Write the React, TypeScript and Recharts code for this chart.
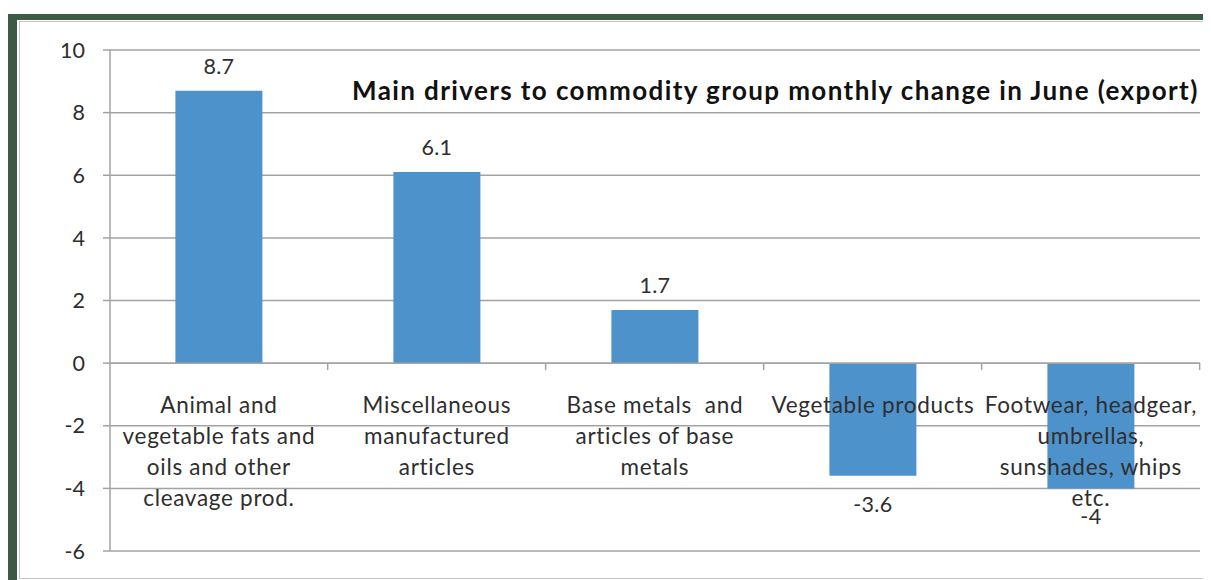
import { BarChart, Bar, XAxis, YAxis, CartesianGrid, ReferenceLine, LabelList } from "recharts";

const categories = [
  "Animal and\nvegetable fats and\noils and other\ncleavage prod.",
  "Miscellaneous\nmanufactured\narticles",
  "Base metals  and\narticles of base\nmetals",
  "Vegetable products",
  "Footwear, headgear,\numbrellas,\nsunshades, whips\netc.",
];
const values = [8.7, 6.1, 1.7, -3.6, -4];
const yTicks = [-6, -4, -2, 0, 2, 4, 6, 8, 10];
const title = "Main drivers to commodity group monthly change in June (export)";

const data = categories.map((name, i) => ({ name, value: values[i] }));

const FONT = "Lato, Carlito, 'Noto Sans', sans-serif";
const GRID = "#a3a3a3";
const TEXT = "#2e2e2e";

function geom(props: any) {
  const vb = props.viewBox || {};
  const x = props.x ?? vb.x;
  const y = props.y ?? vb.y;
  const w = props.width ?? vb.width;
  const h = props.height ?? vb.height;
  return { x: Number(x), y: Number(y), w: Number(w), h: Number(h) };
}

function ValueLabel(props: any) {
  const { x, y, w, h } = geom(props);
  const v = values[props.index];
  const top = Math.min(y, y + h);
  const bottom = Math.max(y, y + h);
  const cx = x + w / 2;
  const ty = v >= 0 ? top - 17 : bottom + 36;
  return (
    <text x={cx} y={ty} textAnchor="middle" fontFamily={FONT} fontSize={21.5} letterSpacing={0.3} fill={TEXT}>
      {v}
    </text>
  );
}

function CategoryLabel(props: any) {
  const { x, y, w, h } = geom(props);
  const v = values[props.index];
  const zero = v >= 0 ? Math.max(y, y + h) : Math.min(y, y + h);
  const cx = x + w / 2;
  const band = w / 0.4;
  const lines = categories[props.index].split("\n");
  return (
    <g>
      <line x1={cx + band / 2} x2={cx + band / 2} y1={zero} y2={zero + 7} stroke={GRID} strokeWidth={1.5} />
      {lines.map((t, i) => (
        <text
          key={i}
          x={cx}
          y={zero + 50 + i * 30.8}
          textAnchor="middle"
          fontFamily={FONT}
          fontSize={22.5}
          letterSpacing={0.7}
          fill={TEXT}
          style={{ whiteSpace: "pre" }}
        >
          {t}
        </text>
      ))}
    </g>
  );
}

export default function App() {
  return (
    <div style={{ position: "relative", width: 1203, height: 572, overflow: "hidden" }}>
      <div style={{ position: "absolute", left: 0, top: 6, width: 1203, height: 566, background: "#3d5a45" }} />
      <div style={{ position: "absolute", left: 9, top: 12, width: 1194, height: 560, background: "#ffffff" }} />
      <div
        style={{
          position: "absolute",
          left: 11,
          top: 13,
          width: 1210,
          height: 558,
          boxSizing: "border-box",
          border: "1px solid #c4c4c4",
        }}
      />
      <div style={{ position: "absolute", left: 0, top: 0 }}>
        <BarChart
          width={1203}
          height={572}
          data={data}
          margin={{ top: 42, right: 11, bottom: 29, left: 0 }}
          barCategoryGap="30%"
        >
          <CartesianGrid vertical={false} stroke={GRID} strokeWidth={1.5} />
          <XAxis dataKey="name" hide />
          <YAxis
            domain={[-6, 10]}
            ticks={yTicks}
            interval={0}
            width={102}
            tickSize={7}
            tickMargin={18}
            axisLine={{ stroke: GRID, strokeWidth: 1.5 }}
            tickLine={{ stroke: GRID, strokeWidth: 1.5 }}
            tick={{ fontFamily: FONT, fontSize: 21.5, fill: TEXT }}
          />
          <ReferenceLine y={0} stroke={GRID} strokeWidth={1.5} />
          <Bar dataKey="value" fill="#4e92cb" isAnimationActive={false}>
            <LabelList dataKey="value" content={ValueLabel} />
            <LabelList dataKey="name" content={CategoryLabel} />
          </Bar>
        </BarChart>
      </div>
      <svg width={1203} height={572} style={{ position: "absolute", left: 0, top: 0, pointerEvents: "none" }}>
        <text x={344} y={92} fontFamily={FONT} fontSize={26} fontWeight={700} letterSpacing={1.4} fill="#111">
          {title}
        </text>
      </svg>
    </div>
  );
}
